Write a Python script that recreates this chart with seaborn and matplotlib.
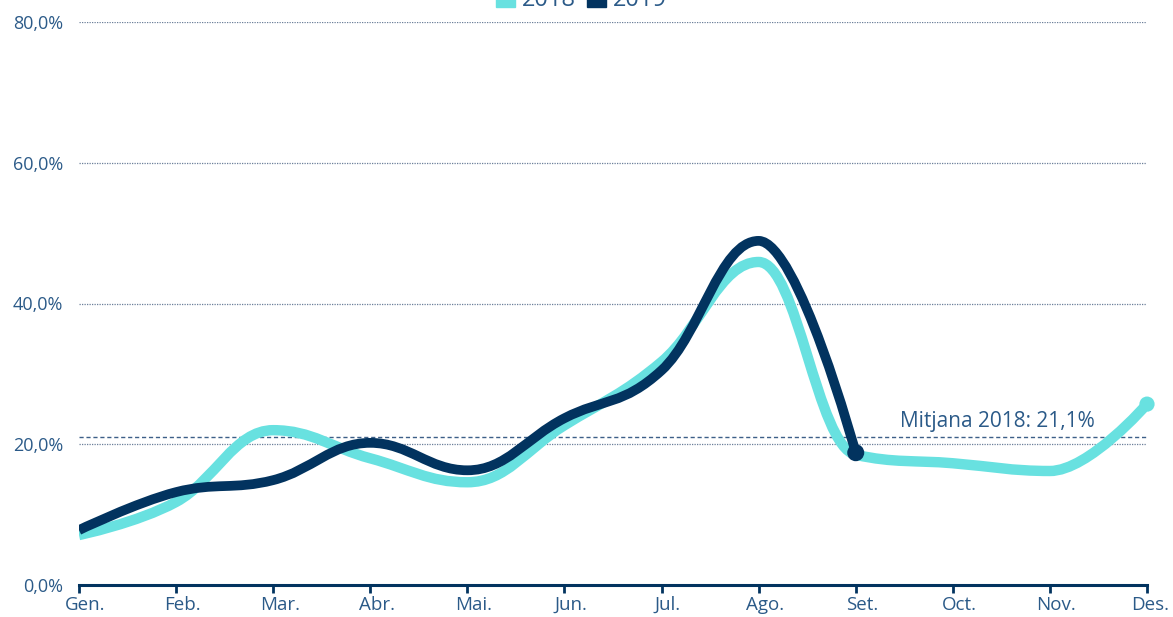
import numpy as np
import seaborn as sns
import matplotlib.pyplot as plt
import matplotlib.transforms as mtransforms
from matplotlib.path import Path
from matplotlib.patches import PathPatch, Patch

# data
months = ['Gen.', 'Feb.', 'Mar.', 'Abr.', 'Mai.', 'Jun.', 'Jul.', 'Ago.', 'Set.', 'Oct.', 'Nov.', 'Des.']
vals_2018 = [7.1, 11.8, 22.0, 18.0, 14.6, 22.7, 31.7, 45.9, 18.5, 17.3, 16.2, 25.7]
vals_2019 = [7.8, 13.2, 14.9, 20.2, 16.3, 23.7, 30.5, 48.9, 18.8]
mean_2018 = 21.1
yticks = [0, 20, 40, 60, 80]

c2018 = '#68E1E0'
c2019 = '#02335F'
txt = '#2B5A88'

sns.set_style('white')
plt.rcParams['font.family'] = ['Open Sans', 'DejaVu Sans']


def smooth_path(xs, ys, smoothing=1.5):
    # spline like the one of the source chart: bezier control points,
    # flattened at local extremes so the curve does not overshoot
    n = len(xs)
    lc = [None] * n
    rc = [None] * n
    for i in range(1, n - 1):
        px, py = xs[i], ys[i]
        lx, ly = xs[i - 1], ys[i - 1]
        nx, ny = xs[i + 1], ys[i + 1]
        d = smoothing + 1
        lcx, lcy = (smoothing * px + lx) / d, (smoothing * py + ly) / d
        rcx, rcy = (smoothing * px + nx) / d, (smoothing * py + ny) / d
        corr = (rcy - lcy) * (rcx - px) / (rcx - lcx) + py - rcy
        lcy += corr
        rcy += corr
        if lcy > ly and lcy > py:
            lcy = max(ly, py)
            rcy = 2 * py - lcy
        elif lcy < ly and lcy < py:
            lcy = min(ly, py)
            rcy = 2 * py - lcy
        if rcy > ny and rcy > py:
            rcy = max(ny, py)
            lcy = 2 * py - rcy
        elif rcy < ny and rcy < py:
            rcy = min(ny, py)
            lcy = 2 * py - rcy
        lc[i] = (lcx, lcy)
        rc[i] = (rcx, rcy)
    verts = [(xs[0], ys[0])]
    codes = [Path.MOVETO]
    for i in range(1, n):
        c1 = rc[i - 1] if rc[i - 1] is not None else (xs[i - 1], ys[i - 1])
        c2 = lc[i] if lc[i] is not None else (xs[i], ys[i])
        verts += [c1, c2, (xs[i], ys[i])]
        codes += [Path.CURVE4] * 3
    return Path(verts, codes)


fig = plt.figure(figsize=(11.73, 6.17), dpi=100)
ax = fig.add_axes([79 / 1173, 1 - 585 / 617, (1147 - 79) / 1173, (585 - 22) / 617])

x18 = list(range(len(vals_2018)))
x19 = list(range(len(vals_2019)))

ax.add_patch(PathPatch(smooth_path(x18, vals_2018), fill=False, edgecolor=c2018,
                       lw=7.5, capstyle='butt', joinstyle='round', zorder=3))
ax.add_patch(PathPatch(smooth_path(x19, vals_2019), fill=False, edgecolor=c2019,
                       lw=7, capstyle='butt', joinstyle='round', zorder=4))
sns.scatterplot(x=[x18[-1]], y=[vals_2018[-1]], color=c2018, s=120, edgecolor='none', ax=ax, zorder=5, clip_on=False)
sns.scatterplot(x=[x19[-1]], y=[vals_2019[-1]], color=c2019, s=150, edgecolor='none', ax=ax, zorder=6)

for v in yticks[1:]:
    ax.axhline(v, color='#6B7F99', lw=0.9, ls=(0, (1, 1)), zorder=1)
ax.axhline(mean_2018, color='#3D5F88', lw=1.0, ls=(0, (3, 2)), zorder=1)
ax.text(10.46, mean_2018 + 0.6, 'Mitjana 2018: 21,1%', color=txt, fontsize=15,
        ha='right', va='bottom')

ax.set_xlim(0, 11)
ax.set_ylim(0, 80)
ax.set_xticks(range(len(months)))
ax.set_xticklabels(months)
ax.set_yticks(yticks)
ax.set_yticklabels([f'{v:.1f}%'.replace('.', ',') for v in yticks])
ax.tick_params(axis='x', bottom=True, colors=c2019, length=6, width=2, direction='out', pad=2,
               labelsize=13.5, labelcolor=txt)
ax.tick_params(axis='y', length=0, labelsize=13, labelcolor=txt, pad=11.5)
# month labels sit a little right of their ticks in the source
labels = ax.get_xticklabels()
for i, lab in enumerate(labels):
    dx = 3 if i == len(labels) - 1 else 6.5
    shift = mtransforms.ScaledTranslation(dx / 100, 0, fig.dpi_scale_trans)
    lab.set_transform(lab.get_transform() + shift)
for s in ['top', 'right', 'left']:
    ax.spines[s].set_visible(False)
ax.spines['bottom'].set_color(c2019)
ax.spines['bottom'].set_linewidth(2.2)
ax.spines['bottom'].set_zorder(7)

handles = [Patch(color=c2018, label='2018'), Patch(color=c2019, label='2019')]
fig.legend(handles=handles, loc='center', bbox_to_anchor=(0.5 - 5 / 1173, 1.0), ncol=2,
           frameon=False, fontsize=17, handlelength=0.8, handleheight=0.8,
           handletextpad=0.3, columnspacing=0.5, labelcolor=txt)

fig.savefig('out.png', dpi=100)
